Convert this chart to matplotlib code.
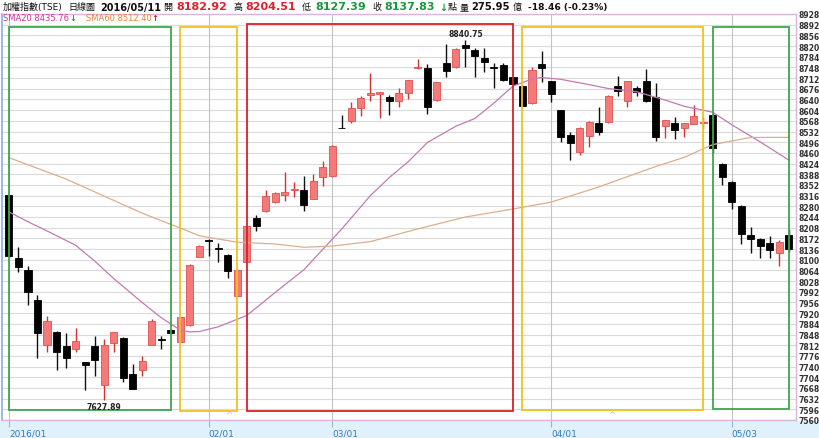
import matplotlib
matplotlib.use('Agg')
import matplotlib.pyplot as plt
from matplotlib.patches import Rectangle
import numpy as np

W, H = 820, 439

# ---------------- data ----------------
opens = [8318.1, 8105.8, 8065.4, 7964.3, 7813.7, 7856.5, 7810.3, 7799.2, 7754.4, 7810.3,
         7678.9, 7818.4, 7837.3, 7714.1, 7729.5, 7813.7, 7832.9, 7864.2, 7823.8, 7881.1,
         8108.2, 8167.5, 8140.5, 8116.9, 7978.8, 8091.3, 8241.6, 8263.2, 8293.5, 8317.1,
         8334.9, 8334.9, 8305.6, 8379.8, 8381.1, 8544.9, 8568.5, 8611.3, 8656.1, 8658.4,
         8649.3, 8633.8, 8662.8, 8746.0, 8745.0, 8638.2, 8761.9, 8748.4, 8824.5, 8806.7,
         8778.7, 8748.4, 8757.2, 8714.7, 8686.4, 8627.1, 8759.5, 8701.2, 8605.5, 8521.3,
         8464.0, 8517.9, 8560.7, 8563.1, 8684.4, 8633.8, 8679.7, 8703.2, 8649.3, 8549.6,
         8561.4, 8542.9, 8557.4, 8562.4, 8587.7, 8422.6, 8362.9, 8282.1, 8183.4, 8169.9,
         8156.4, 8121.7, 8182.92]
highs = [8318.1, 8141.8, 8077.9, 7981.1, 7909.4, 7860.0, 7853.1, 7868.9, 7756.0, 7844.0,
         7832.9, 7858.0, 7838.0, 7748.7, 7776.6, 7900.3, 7844.0, 7866.6, 7907.0, 8085.6,
         8150.7, 8168.2, 8155.4, 8119.3, 8068.8, 8213.6, 8251.7, 8336.0, 8328.2, 8396.6,
         8360.9, 8381.1, 8388.9, 8433.7, 8487.6, 8588.7, 8630.5, 8650.7, 8728.2, 8666.2,
         8656.1, 8678.6, 8707.3, 8776.4, 8759.5, 8698.9, 8826.9, 8811.8, 8840.75, 8813.4,
         8813.4, 8761.9, 8761.9, 8717.4, 8688.8, 8748.4, 8804.3, 8702.2, 8606.2, 8529.4,
         8546.2, 8568.5, 8613.6, 8653.4, 8718.1, 8702.2, 8686.4, 8742.7, 8695.5, 8572.5,
         8579.9, 8560.7, 8622.4, 8579.9, 8594.4, 8424.3, 8364.3, 8285.5, 8209.3, 8172.2,
         8179.0, 8167.5, 8204.51]
lows = [8109.0, 8057.6, 7948.5, 7769.9, 7790.1, 7728.5, 7734.2, 7788.1, 7662.0, 7709.3,
        7627.89, 7788.1, 7689.0, 7662.8, 7707.2, 7813.7, 7799.2, 7849.8, 7822.8, 7878.4,
        8108.2, 8111.6, 8093.4, 8037.4, 7977.8, 8090.7, 8195.8, 8260.8, 8291.2, 8298.9,
        8312.4, 8265.2, 8304.6, 8349.4, 8380.4, 8542.2, 8560.7, 8583.3, 8635.9, 8576.6,
        8588.7, 8615.6, 8641.6, 8742.7, 8591.0, 8636.5, 8716.7, 8747.7, 8748.4, 8714.7,
        8733.6, 8678.6, 8701.2, 8688.8, 8618.0, 8626.4, 8697.9, 8630.5, 8497.7, 8437.0,
        8452.9, 8478.8, 8521.3, 8562.4, 8652.7, 8613.6, 8650.7, 8631.5, 8501.1, 8509.2,
        8506.8, 8512.5, 8555.7, 8540.5, 8459.6, 8352.8, 8271.0, 8153.0, 8122.7, 8104.8,
        8104.8, 8077.9, 8127.39]
closes = [8113.6, 8076.5, 7990.3, 7853.1, 7894.6, 7788.1, 7768.9, 7825.1, 7746.3, 7763.2,
          7812.7, 7855.5, 7700.5, 7664.5, 7757.8, 7894.6, 7831.2, 7852.1, 7906.0, 8082.3,
          8147.3, 8162.1, 8136.1, 8063.0, 8066.4, 8212.6, 8214.6, 8313.7, 8323.8, 8327.2,
          8337.3, 8284.4, 8366.3, 8411.4, 8484.2, 8542.9, 8610.3, 8644.0, 8660.8, 8664.2,
          8633.8, 8660.8, 8705.6, 8749.4, 8614.1, 8697.9, 8737.0, 8810.1, 8813.4, 8785.5,
          8767.3, 8746.0, 8705.6, 8692.1, 8619.0, 8739.3, 8745.0, 8658.4, 8512.5, 8492.3,
          8542.9, 8563.1, 8531.4, 8652.7, 8667.5, 8701.2, 8666.2, 8633.8, 8514.5, 8570.8,
          8536.5, 8559.7, 8583.3, 8564.1, 8475.5, 8379.8, 8295.6, 8186.7, 8169.9, 8147.3,
          8132.8, 8158.7, 8137.83]

sma20_idx = [0, 2, 4, 7, 9, 11, 14, 16, 18, 19, 20, 22, 25, 28, 31, 33, 35, 38, 40, 42, 44,
             47, 49, 51, 53, 55, 56, 58, 61, 63, 66, 69, 71, 74, 76, 79, 82]
sma20_val = [8261, 8228, 8197, 8149, 8096, 8037, 7956, 7905, 7863, 7857, 7858, 7874, 7912, 7990,
             8066, 8135, 8204, 8316, 8377, 8431, 8495, 8550, 8576, 8628, 8685, 8709, 8714, 8708,
             8690, 8677, 8666, 8638, 8617, 8597, 8555, 8497, 8435.76]
sma60_idx = [0, 6, 14, 18, 20, 24, 28, 31, 34, 38, 43, 48, 53, 57, 62, 68, 71, 74, 78, 82]
sma60_val = [8444, 8372, 8257, 8207, 8181, 8159, 8153, 8142, 8146, 8161, 8204, 8244, 8271, 8294,
             8345, 8414, 8445, 8488, 8512, 8512.40]

tick_idx = [0, 21, 34, 57, 76]
tick_labels = ['2016/01', '02/01', '03/01', '04/01', '05/03']

# highlighted ranges: (start index, end index, top value, bottom value, colour)
boxes = [(0, 17, 8884, 7594, '#3ea650'),
         (18, 24, 8884, 7590, '#f2c21e'),
         (25, 53, 8894, 7590, '#d8202c'),
         (54, 73, 8884, 7594, '#f2c21e'),
         (74, 82, 8884, 7597, '#3ea650')]

low_label = (10, 7627.89)
high_label = (48, 8840.75)

# ---------------- figure ----------------
fig = plt.figure(figsize=(W / 100, H / 100), dpi=100)
fig.patch.set_facecolor('white')
fig.patches.append(Rectangle((0, 0), 1, 17 / H, transform=fig.transFigure,
                             facecolor='#e1f1fb', edgecolor='none', zorder=-10))

left_px, right_px, top_px, bot_px = 2.5, 796, 15, 421
ax = fig.add_axes([left_px / W, 1 - bot_px / H, (right_px - left_px) / W, (bot_px - top_px) / H])
ax.set_facecolor('white')
ax.set_zorder(1)

ymin, ymax = 7560, 8928
ax.set_ylim(ymin, ymax)
ax.set_xlim(-0.68, 82.76)

yt = list(range(ymin, ymax + 1, 36))
for v in yt:
    ax.axhline(v, color='#dadada', lw=0.8, zorder=1)
for t in tick_idx:
    ax.axvline(t, color='#c4c4c4', lw=0.8, zorder=1)

O = np.array(opens); Hh = np.array(highs); L = np.array(lows); C = np.array(closes)
x = np.arange(len(O))
up = C >= O
red_fill, red_edge, red_wick = '#f47a7a', '#e05050', '#d63030'

ax.vlines(x[up], L[up], Hh[up], color=red_wick, lw=1.0, zorder=3)
ax.vlines(x[~up], L[~up], Hh[~up], color='#111111', lw=1.0, zorder=3)
bot = np.minimum(O, C)
hgt = np.maximum(np.abs(C - O), 2.0)
ax.bar(x[up], hgt[up], bottom=bot[up], width=0.74, color=red_fill, edgecolor=red_edge,
       linewidth=0.6, zorder=4)
ax.bar(x[~up], hgt[~up], bottom=bot[~up], width=0.74, color='#000000', edgecolor='#000000',
       linewidth=0.6, zorder=4)

ax.plot(sma20_idx, sma20_val, color='#c47ab4', lw=0.9, zorder=5)
ax.plot(sma60_idx, sma60_val, color='#dcae8e', lw=0.9, zorder=5)

for s, e, top, bt, col in boxes:
    ax.add_patch(Rectangle((s, bt), e - s, top - bt, fill=False, edgecolor=col, lw=1.3, zorder=6))

ax.annotate(f'{low_label[1]:.2f}', xy=low_label, xytext=(0, -1.5), textcoords='offset points',
            ha='center', va='top', fontsize=5.5, fontweight='bold', color='#222222', zorder=7)
ax.annotate(f'{high_label[1]:.2f}', xy=high_label, xytext=(0, 1.5), textcoords='offset points',
            ha='center', va='bottom', fontsize=5.5, fontweight='bold', color='#222222', zorder=7)

for xi in (23.1, 63.4):
    ax.text(xi, 7563, '^', ha='center', va='bottom', fontsize=6, color='#d8a8d8', zorder=7)

# axes styling
ax.yaxis.tick_right()
ax.set_yticks(yt)
ax.set_yticklabels([str(v) for v in yt])
ax.tick_params(axis='y', length=0, pad=2, labelsize=5.5, labelcolor='#333333')
for lab in ax.get_yticklabels():
    lab.set_fontweight('bold')
ax.set_xticks(tick_idx)
ax.set_xticklabels(tick_labels)
ax.tick_params(axis='x', length=5, width=0.8, color='#9bb7cf', pad=1, labelsize=6.5,
               labelcolor='#2f7fc0')
for lab in ax.get_xticklabels():
    lab.set_horizontalalignment('left')
ax.spines['left'].set_color('#8fb6e6')
ax.spines['left'].set_linewidth(1.3)
for sp in ('top', 'right', 'bottom'):
    ax.spines[sp].set_color('#dab4dc')
    ax.spines[sp].set_linewidth(1.0)

# header
fam = ['DejaVu Sans', 'Noto Sans CJK TC']
def ft(xp, yp, s, color='#111111', weight='normal', size=6.5):
    fig.text(xp / W, 1 - yp / H, s, color=color, fontweight=weight, fontsize=size,
             family=fam, ha='left', va='center', zorder=5)

red, green = '#e0202a', '#1a9a3a'
y1 = 7.5
ft(3, y1, '加權指數(TSE)')
ft(68, y1, '日線圖')
ft(100, y1, '2016/05/11', weight='bold', size=7)
ft(163, y1, '開')
ft(176, y1, '8182.92', red, 'bold', 8.0)
ft(234, y1, '高')
ft(245, y1, '8204.51', red, 'bold', 8.0)
ft(302, y1, '低')
ft(315, y1, '8127.39', green, 'bold', 8.0)
ft(372, y1, '收')
ft(384, y1, '8137.83', green, 'bold', 8.0)
ft(439, y1, '↓', green, 'bold', 7)
ft(448, y1, '點')
ft(460, y1, '量')
ft(471, y1, '275.95', '#111111', 'bold', 7.2)
ft(513, y1, '億')
ft(528, y1, '-18.46 (-0.23%)', '#111111', 'bold', 6.6)

y2 = 18.5
ft(3, y2, 'SMA20 8435.76', '#d0309a', 'normal', 6)
ft(69, y2, '↓', green, 'bold', 6)
ft(86, y2, 'SMA60 8512.40', '#e8803c', 'normal', 6)
ft(151, y2, '↑', red, 'bold', 6)

fig.savefig('out.png', dpi=100, facecolor=fig.get_facecolor())
